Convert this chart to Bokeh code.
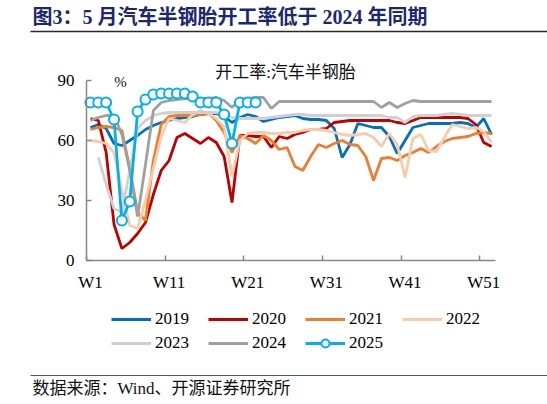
import numpy as np
from bokeh.plotting import figure
from bokeh.models import (Range1d, FixedTicker, Label, Legend, LegendItem,
                          ColumnDataSource, Arrow)
from bokeh.embed import file_html
from bokeh.resources import INLINE

# weekly operating rate of semi-steel tyres (%)
weeks = list(range(1, 53))
tick_weeks = [1, 11, 21, 31, 41, 51]
tick_labels = ["W1", "W11", "W21", "W31", "W41", "W51"]

y2019 = [66.5, 68, 66, 58.5, 57.5, 60, 62.5, 65.5, 67.5, 69, 70, 71, 71.5, 72, 73, 73.5,
         73.5, 72, 69, 71.5, 73, 72, 69.5, 70.5, 71.5, 72, 72.5, 71, 70.5, 70.5, 70, 66,
         51.5, 58, 68.5, 67.5, 66.5, 66.5, 62, 53.5, 60, 66.5, 67.5, 68.5, 68.5, 68.5,
         68.5, 69, 68.5, 66.5, 71, 63]
y2020 = [71, 70, 54, 18, 6, 9, 13.5, 19, 33, 45, 50, 61.5, 63.5, 61, 58.5, 61.5, 59, 52,
         29, 62.5, 62.5, 62, 62, 56.5, 62, 61, 63, 64, 65.5, 65.5, 66, 69, 69.5, 70, 70,
         70, 70, 70, 70, 69, 68.5, 70, 71.5, 71.5, 71.5, 71.5, 71.5, 71.5, 71, 68, 59, 57]
y2021 = [65.5, 66.5, 67, 66.5, 65, 46, 24, 20, 50, 68, 72, 72.5, 72.5, 72.5, 73, 73.5,
         70, 64, 54, 62.5, 61, 58.5, 62.5, 60, 55.5, 56.5, 47, 45, 52, 58, 56.5, 58.5, 60,
         58, 57.5, 52, 40, 51, 51.5, 50, 52.5, 54, 56, 54, 57, 59.5, 61, 61.5, 62, 63.5,
         64, 63.5]
y2022 = [60, 59.5, 58.5, 54, 35, 17.5, 16, 30, 46, 62, 71, 70, 69, 73, 75, 73.5, 71, 67,
         42, 60, 63.5, 64, 64, 63.5, 63.5, 64, 64, 65, 65.5, 65.5, 65, 64, 63, 62.5, 63,
         63.5, 61.5, 57, 63.5, 58, 41.5, 61, 63, 55, 54.5, 61.5, 68, 67, 66, 66.5, 64.5, 59]
y2023 = [np.nan, 51.5, 38, 26, 24, 45, 66, 70, 72.5, 73.5, 74, 74, 74, 74, 74, 74, 74, 73,
         71.5, 71, 71, 71, 71, 71.5, 72, 72.5, 73, 73, 72.5, 72.5, 72.5, 72.5, 72.5, 72.5,
         72.5, 72.5, 72.5, 72.5, 71.5, 71.5, 69, 72, 72.5, 72.5, 72.5, 73, 73.5, 73, 72.5,
         72.5, 72.5, 72.5]
y2024 = [70, 71.5, 72.5, 72.5, 63, 45, 22, 48, 75, 79, 80, 80.5, 81, 81, 81, 81, 81.5, 80,
         76.5, 80.5, 81, 81.5, 81.5, 76, 79.5, 79.5, 79.5, 79.5, 79.5, 79.5, 79.5, 79.5,
         79.5, 79.5, 79.5, 79.5, 79.5, 76.5, 79, 76.5, 78.5, 80, 79.5, 79.5, 79.5, 79.5,
         79.5, 79.5, 79.5, 79.5, 79.5, 79.5]
y2025 = [79, 79, 79, 70.5, 20, 29.5, 74.5, 80.5, 83, 83.5, 83.5, 83.5, 83.5, 82, 79, 79,
         79, 73, 58.5, 79, 79, 79]

series = [("2019", y2019, "#0070C0"),
          ("2020", y2020, "#C00000"),
          ("2021", y2021, "#ED7D31"),
          ("2022", y2022, "#F8CBAD"),
          ("2023", y2023, "#D0D0D0"),
          ("2024", y2024, "#A0A0A0"),
          ("2025", y2025, "#00B0F0")]

SERIF = "Liberation Serif, Noto Sans CJK SC"
W, H = 547, 404

# frame covers the whole canvas; the axes sit at fixed data locations inside it
px_week = 409 / 52
x_lo = 0.5 - 86 / px_week
x_hi = x_lo + W / px_week
y_lo = -(H - 260) / 2
y_hi = y_lo + H / 2

p = figure(width=W, height=H, output_backend="svg", toolbar_location=None,
           x_range=Range1d(x_lo, x_hi), y_range=Range1d(y_lo, y_hi),
           min_border=0, min_border_left=0, min_border_right=0,
           min_border_top=0, min_border_bottom=0)
p.title.visible = False
p.outline_line_color = None
p.xgrid.visible = False
p.ygrid.visible = False

p.xaxis.fixed_location = 0
p.xaxis.bounds = (0.5, 52.5)
p.xaxis.ticker = FixedTicker(ticks=tick_weeks, minor_ticks=[w - 0.5 for w in tick_weeks])
p.xaxis.major_label_overrides = {w: s for w, s in zip(tick_weeks, tick_labels)}
p.xaxis.major_tick_in = 0
p.xaxis.major_tick_out = 0
p.xaxis.minor_tick_in = 5
p.xaxis.minor_tick_out = 0
p.xaxis.major_label_standoff = 12
p.yaxis.fixed_location = 0.5
p.yaxis.bounds = (0, 90)
p.yaxis.ticker = FixedTicker(ticks=[0, 30, 60, 90])
p.yaxis.major_tick_in = 5
p.yaxis.major_tick_out = 0
p.yaxis.minor_tick_in = 0
p.yaxis.minor_tick_out = 0
p.yaxis.major_label_standoff = 12
for ax in (p.xaxis, p.yaxis):
    ax.axis_line_color = "#888888"
    ax.axis_line_width = 1.5
    ax.major_tick_line_color = "#888888"
    ax.minor_tick_line_color = "#888888"
    ax.major_tick_line_width = 1.5
    ax.minor_tick_line_width = 1.5
    ax.major_label_text_font = "Liberation Serif"
    ax.major_label_text_font_size = "17px"
    ax.major_label_text_color = "#000000"

keys = {}
for name, ys, col in series:
    src = ColumnDataSource(dict(x=weeks[:len(ys)], y=ys))
    rs = [p.line("x", "y", source=src, line_color=col, line_width=2.8)]
    if name == "2025":
        rs.append(p.scatter("x", "y", source=src, size=10, marker="circle",
                            fill_color="white", line_color=col, line_width=2))
    keys[name] = rs

# legend, two rows
leg_kw = dict(orientation="horizontal", border_line_color=None, background_fill_alpha=0,
              padding=0, margin=0, spacing=19, glyph_width=40, glyph_height=20,
              label_height=20, label_standoff=4, label_text_font="Liberation Serif",
              label_text_font_size="17px", label_text_color="#000000")
row1 = Legend(items=[LegendItem(label=n, renderers=keys[n])
                     for n in ["2019", "2020", "2021", "2022"]],
              location=(111, H - 329), **leg_kw)
row2 = Legend(items=[LegendItem(label=n, renderers=keys[n])
                     for n in ["2023", "2024", "2025"]],
              location=(111, H - 353), **leg_kw)
p.add_layout(row1)
p.add_layout(row2)


def note(x, y, text, **kw):
    # y measured from the top of the picture
    p.add_layout(Label(x=x, y=H - y, x_units="screen", y_units="screen", text=text,
                       text_baseline="middle", **kw))


def rule(y, color, width):
    p.add_layout(Arrow(end=None, x_start=30, y_start=H - y, x_end=W, y_end=H - y,
                       start_units="screen", end_units="screen",
                       line_color=color, line_width=width))


rule(31, "#2A2A2A", 1.5)
note(32, 16, "图3：5 月汽车半钢胎开工率低于 2024 年同期", text_font=SERIF,
     text_font_size="20px", text_font_style="bold", text_color="#1C2774")
note(285, 72, "开工率:汽车半钢胎", text_font=SERIF, text_font_size="17px",
     text_color="#111111", text_align="center")
note(120, 81, "%", text_font="Liberation Serif", text_font_size="15px",
     text_color="#111111", text_align="center")
rule(375, "#555555", 1)
note(32, 388, "数据来源：Wind、开源证券研究所", text_font=SERIF, text_font_size="17px",
     text_color="#111111")

open("out.html", "w").write(file_html(p, INLINE))
